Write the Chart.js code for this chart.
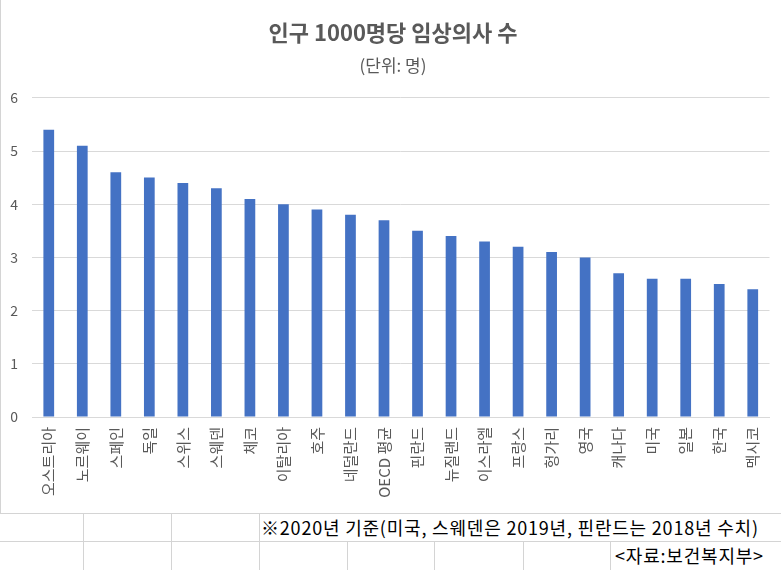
<!DOCTYPE html>
<html>
<head>
<meta charset="utf-8">
<script src="https://cdn.jsdelivr.net/npm/chart.js@4"></script>
<style>
  body { margin: 0; background: #fff; width: 781px; height: 570px; overflow: hidden; position: relative; }
  #box { position: absolute; left: 0; top: 0; width: 781px; height: 513px; }
  .ln { position: absolute; background: #d4d4d4; }
  .note { position: absolute; font-family: "Noto Sans CJK KR", sans-serif; font-size: 18px; letter-spacing: 0.8px; color: #000; white-space: nowrap; line-height: 28px; }
</style>
</head>
<body>
<div id="box"><canvas id="myChart" width="781" height="513"></canvas></div>
<div class="ln" style="left:0;top:0;width:1px;height:513px"></div>
<div class="ln" style="left:0;top:513px;width:781px;height:1px"></div>
<div class="ln" style="left:0;top:541px;width:781px;height:1px"></div>
<div class="ln" style="left:83px;top:513px;width:1px;height:57px"></div>
<div class="ln" style="left:171px;top:513px;width:1px;height:57px"></div>
<div class="ln" style="left:259px;top:513px;width:1px;height:57px"></div>
<div class="ln" style="left:347px;top:541px;width:1px;height:29px"></div>
<div class="ln" style="left:434px;top:541px;width:1px;height:29px"></div>
<div class="ln" style="left:523px;top:541px;width:1px;height:29px"></div>
<div class="ln" style="left:610px;top:541px;width:1px;height:29px"></div>
<div class="note" style="left:261px;top:513px">※2020년 기준(미국, 스웨덴은 2019년, 핀란드는 2018년 수치)</div>
<div class="note" style="left:615px;top:541px">&lt;자료:보건복지부&gt;</div>
<script>
var countries = ["오스트리아", "노르웨이", "스페인", "독일", "스위스", "스웨덴", "체코", "이탈리아", "호주", "네덜란드", "OECD 평균",
  "핀란드", "뉴질랜드", "이스라엘", "프랑스", "헝가리", "영국", "캐나다", "미국", "일본", "한국", "멕시코"];
var doctors = [5.4, 5.1, 4.6, 4.5, 4.4, 4.3, 4.1, 4.0, 3.9, 3.8, 3.7, 3.5, 3.4, 3.3, 3.2, 3.1, 3.0, 2.7, 2.6, 2.6, 2.5, 2.4];

var font = "'Noto Sans CJK KR', sans-serif";

// nudge title + subtitle a little right, like the original
var shiftTitles = {
  id: 'shiftTitles',
  afterLayout: function (chart) {
    chart.boxes.forEach(function (b) {
      if (b.options && b.options.text !== undefined) { b.left += 16; }
    });
  }
};

var ctx = document.getElementById("myChart");
var myChart = new Chart(ctx, {
  type: 'bar',
  data: {
    labels: countries,
    datasets: [{
      data: doctors,
      backgroundColor: "#4472C4",
      barPercentage: 0.4,
      categoryPercentage: 0.8
    }]
  },
  options: {
    responsive: false,
    animation: false,
    layout: { padding: { top: 19, right: 11, bottom: 0, left: 0 } },
    plugins: {
      legend: { display: false },
      tooltip: { enabled: false },
      title: {
        display: true,
        text: '인구 1000명당 임상의사 수',
        color: "#595959",
        font: { family: font, size: 22, weight: 'bold' },
        padding: { top: 0, bottom: 10 }
      },
      subtitle: {
        display: true,
        text: '(단위: 명)',
        color: "#595959",
        font: { family: font, size: 17 },
        padding: { top: 0, bottom: 22 }
      }
    },
    scales: {
      x: {
        grid: { display: false, drawTicks: false },
        border: { display: true, color: "#d9d9d9" },
        ticks: {
          color: "#595959",
          font: { family: font, size: 15 },
          minRotation: 90,
          maxRotation: 90,
          autoSkip: false,
          padding: 10
        },
        afterFit: function (scale) { scale.height = 96; }
      },
      y: {
        min: 0,
        max: 6,
        grid: { color: "#d9d9d9", drawTicks: false },
        border: { display: false },
        ticks: {
          stepSize: 1,
          color: "#595959",
          font: { family: font, size: 14 },
          padding: 14
        },
        afterFit: function (scale) { scale.width = 32; }
      }
    }
  },
  plugins: [shiftTitles]
});
</script>
</body>
</html>
